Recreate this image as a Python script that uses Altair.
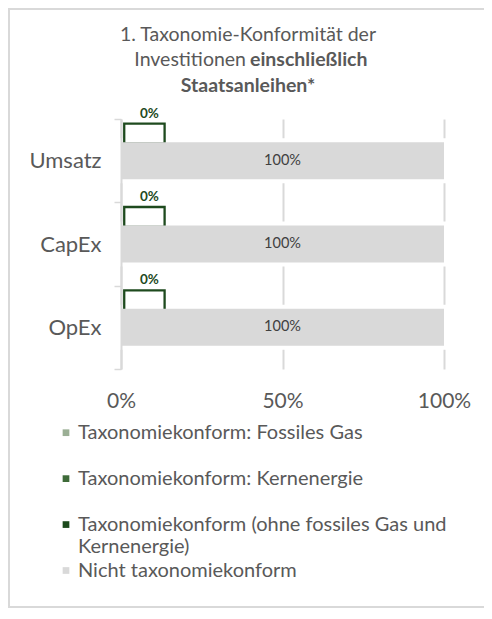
import altair as alt
import pandas as pd

# ---------------- data ----------------
CATEGORIES = ["Umsatz", "CapEx", "OpEx"]
SERIES = [
    "Taxonomiekonform: Fossiles Gas",
    "Taxonomiekonform: Kernenergie",
    "Taxonomiekonform (ohne fossiles Gas und Kernenergie)",
    "Nicht taxonomiekonform",
]
FOSSIL_GAS = [0, 0, 0]
NUCLEAR = [0, 0, 0]
ALIGNED_OTHER = [0, 0, 0]
NOT_ALIGNED = [100, 100, 100]
X_TICKS = [0, 50, 100]
LEGEND_TEXT = [
    "Taxonomiekonform: Fossiles Gas",
    "Taxonomiekonform: Kernenergie",
    "Taxonomiekonform (ohne fossiles Gas und\nKernenergie)",
    "Nicht taxonomiekonform",
]
TITLE_LINE1 = "1. Taxonomie-Konformität der"
TITLE_LINE2_NORMAL = "Investitionen"
TITLE_LINE2_BOLD = "einschließlich"
TITLE_LINE3_BOLD = "Staatsanleihen*"

# ---------------- style ----------------
COLORS = ["#9BAF95", "#3E6B39", "#1C4A1C", "#D9D9D9"]
DARK_GREEN = "#1E4A1E"
TEXT_GREY = "#595959"
GRID_GREY = "#D9D9D9"
FONT = "Lato"
BRACKET_FROM, BRACKET_TO = 1, 13.5   # annotation bracket span (in % units)
W, H = 323, 250

# ---------------- tables ----------------
series_values = [FOSSIL_GAS, NUCLEAR, ALIGNED_OTHER, NOT_ALIGNED]
rows = []
for ci, cat in enumerate(CATEGORIES):
    start = 0
    for si, s in enumerate(SERIES):
        v = series_values[si][ci]
        rows.append({"cat": cat, "series": s, "order": si, "value": v,
                     "start": start, "end": start + v, "mid": start + v / 2,
                     "label": f"{v:.0f}%"})
        start += v
long_df = pd.DataFrame(rows)
totals_df = long_df.groupby("cat", as_index=False)["value"].sum()

bracket_df = pd.DataFrame({
    "cat": CATEGORIES,
    "b0": [BRACKET_FROM] * 3,
    "b1": [BRACKET_TO] * 3,
    "bmid": [(BRACKET_FROM + BRACKET_TO) / 2] * 3,
    "label": [f"{v:.0f}%" for v in ALIGNED_OTHER],
})
legend_df = pd.DataFrame({"idx": list(range(4)), "series": SERIES, "text": LEGEND_TEXT})
one = pd.DataFrame({"k": [0]})

# ---------------- scales / axes ----------------
x_scale = alt.Scale(domain=[0, 100], nice=False, zero=True)
y_scale = alt.Scale(domain=CATEGORIES, paddingInner=0, paddingOuter=0)
x_axis = alt.Axis(values=X_TICKS, labelExpr="datum.value + '%'", title=None,
                  domain=False, ticks=False, grid=True, gridColor=GRID_GREY,
                  gridWidth=2, labelFont=FONT, labelFontSize=21, labelFlush=False,
                  labelColor=TEXT_GREY, labelPadding=21)
y_axis = alt.Axis(title=None, domain=True, domainColor=GRID_GREY, domainWidth=2,
                  ticks=True, tickBand="extent", tickSize=7, tickColor=GRID_GREY,
                  tickWidth=1.5, grid=False, labelFont=FONT, labelFontSize=22,
                  labelColor=TEXT_GREY, labelPadding=13, zindex=1)
color_scale = alt.Scale(domain=SERIES, range=COLORS)

Y = alt.Y("cat:N", scale=y_scale, axis=y_axis, sort=CATEGORIES)

halo = alt.Chart(totals_df).mark_bar(size=37, color="white", stroke="white",
                                     strokeWidth=8).encode(
    x=alt.X("value:Q", scale=x_scale, axis=x_axis), y=Y)

bracket = alt.Chart(bracket_df).mark_bar(size=20, yOffset=-27, fillOpacity=0,
                                         stroke=DARK_GREEN, strokeWidth=2.3,
                                         strokeJoin="miter").encode(
    x=alt.X("b0:Q", scale=x_scale, axis=x_axis), x2="b1:Q", y=Y)

bars = alt.Chart(long_df).mark_bar(size=37).encode(
    x=alt.X("start:Q", scale=x_scale, axis=x_axis), x2="end:Q", y=Y,
    color=alt.Color("series:N", scale=color_scale, legend=None),
)

lab100 = alt.Chart(long_df).transform_filter(
    alt.datum.series == SERIES[3]).mark_text(
    font=FONT, fontSize=14.5, color="#404040", baseline="middle").encode(
    x=alt.X("mid:Q", scale=x_scale, axis=x_axis), y=Y, text="label:N")

lab0 = alt.Chart(bracket_df).mark_text(
    font=FONT, fontSize=13.5, fontWeight="bold", color=DARK_GREEN,
    baseline="alphabetic", dx=5, yOffset=-43).encode(
    x=alt.X("bmid:Q", scale=x_scale, axis=x_axis), y=Y, text="label:N")

bar_group = alt.layer(halo, bracket, bars, lab100, lab0)

# ---------------- manual legend ----------------
LY = alt.Y("idx:Q", scale=alt.Scale(domain=[0, 3], range=[313.7, 451.5],
                                    nice=False, zero=False), axis=None)
leg_sq = alt.Chart(legend_df).mark_square(size=45, opacity=1).encode(
    x=alt.value(-55), y=LY,
    color=alt.Color("series:N", scale=color_scale, legend=None))
leg_txt = alt.Chart(legend_df).mark_text(
    font=FONT, fontSize=20, color=TEXT_GREY, align="left", baseline="middle",
    lineBreak="\n", lineHeight=22).encode(
    x=alt.value(-43), y=LY, text="text:N")
legend_group = alt.layer(leg_sq, leg_txt)

# ---------------- title ----------------
def ttext(txt, x, y, align, bold=False):
    return alt.Chart(one).mark_text(
        text=txt, font=FONT, fontSize=19.5, color=TEXT_GREY, align=align,
        baseline="alphabetic", fontWeight="bold" if bold else "normal").encode(
        x=alt.value(x), y=alt.value(y))

title_group = alt.layer(
    ttext(TITLE_LINE1, 127, -78, "center"),
    ttext(TITLE_LINE2_NORMAL, 125, -53, "right"),
    ttext(TITLE_LINE2_BOLD, 129, -53, "left", True),
    ttext(TITLE_LINE3_BOLD, 127, -27, "center", True),
)

frame = alt.Chart(one).mark_rect(fillOpacity=0, stroke=GRID_GREY, strokeWidth=2).encode(
    x=alt.value(-112), x2=alt.value(600), y=alt.value(-110), y2=alt.value(H + 238))

chart = alt.layer(frame, bar_group, legend_group, title_group).resolve_scale(
    y="independent"
).properties(
    width=W, height=H,
    autosize=alt.AutoSizeParams(type="none"),
    padding={"left": 113, "top": 111, "right": 40, "bottom": 239},
    background="white",
).configure_view(stroke=None)

chart.save("out.html", embed_options={"renderer": "svg", "actions": False})
